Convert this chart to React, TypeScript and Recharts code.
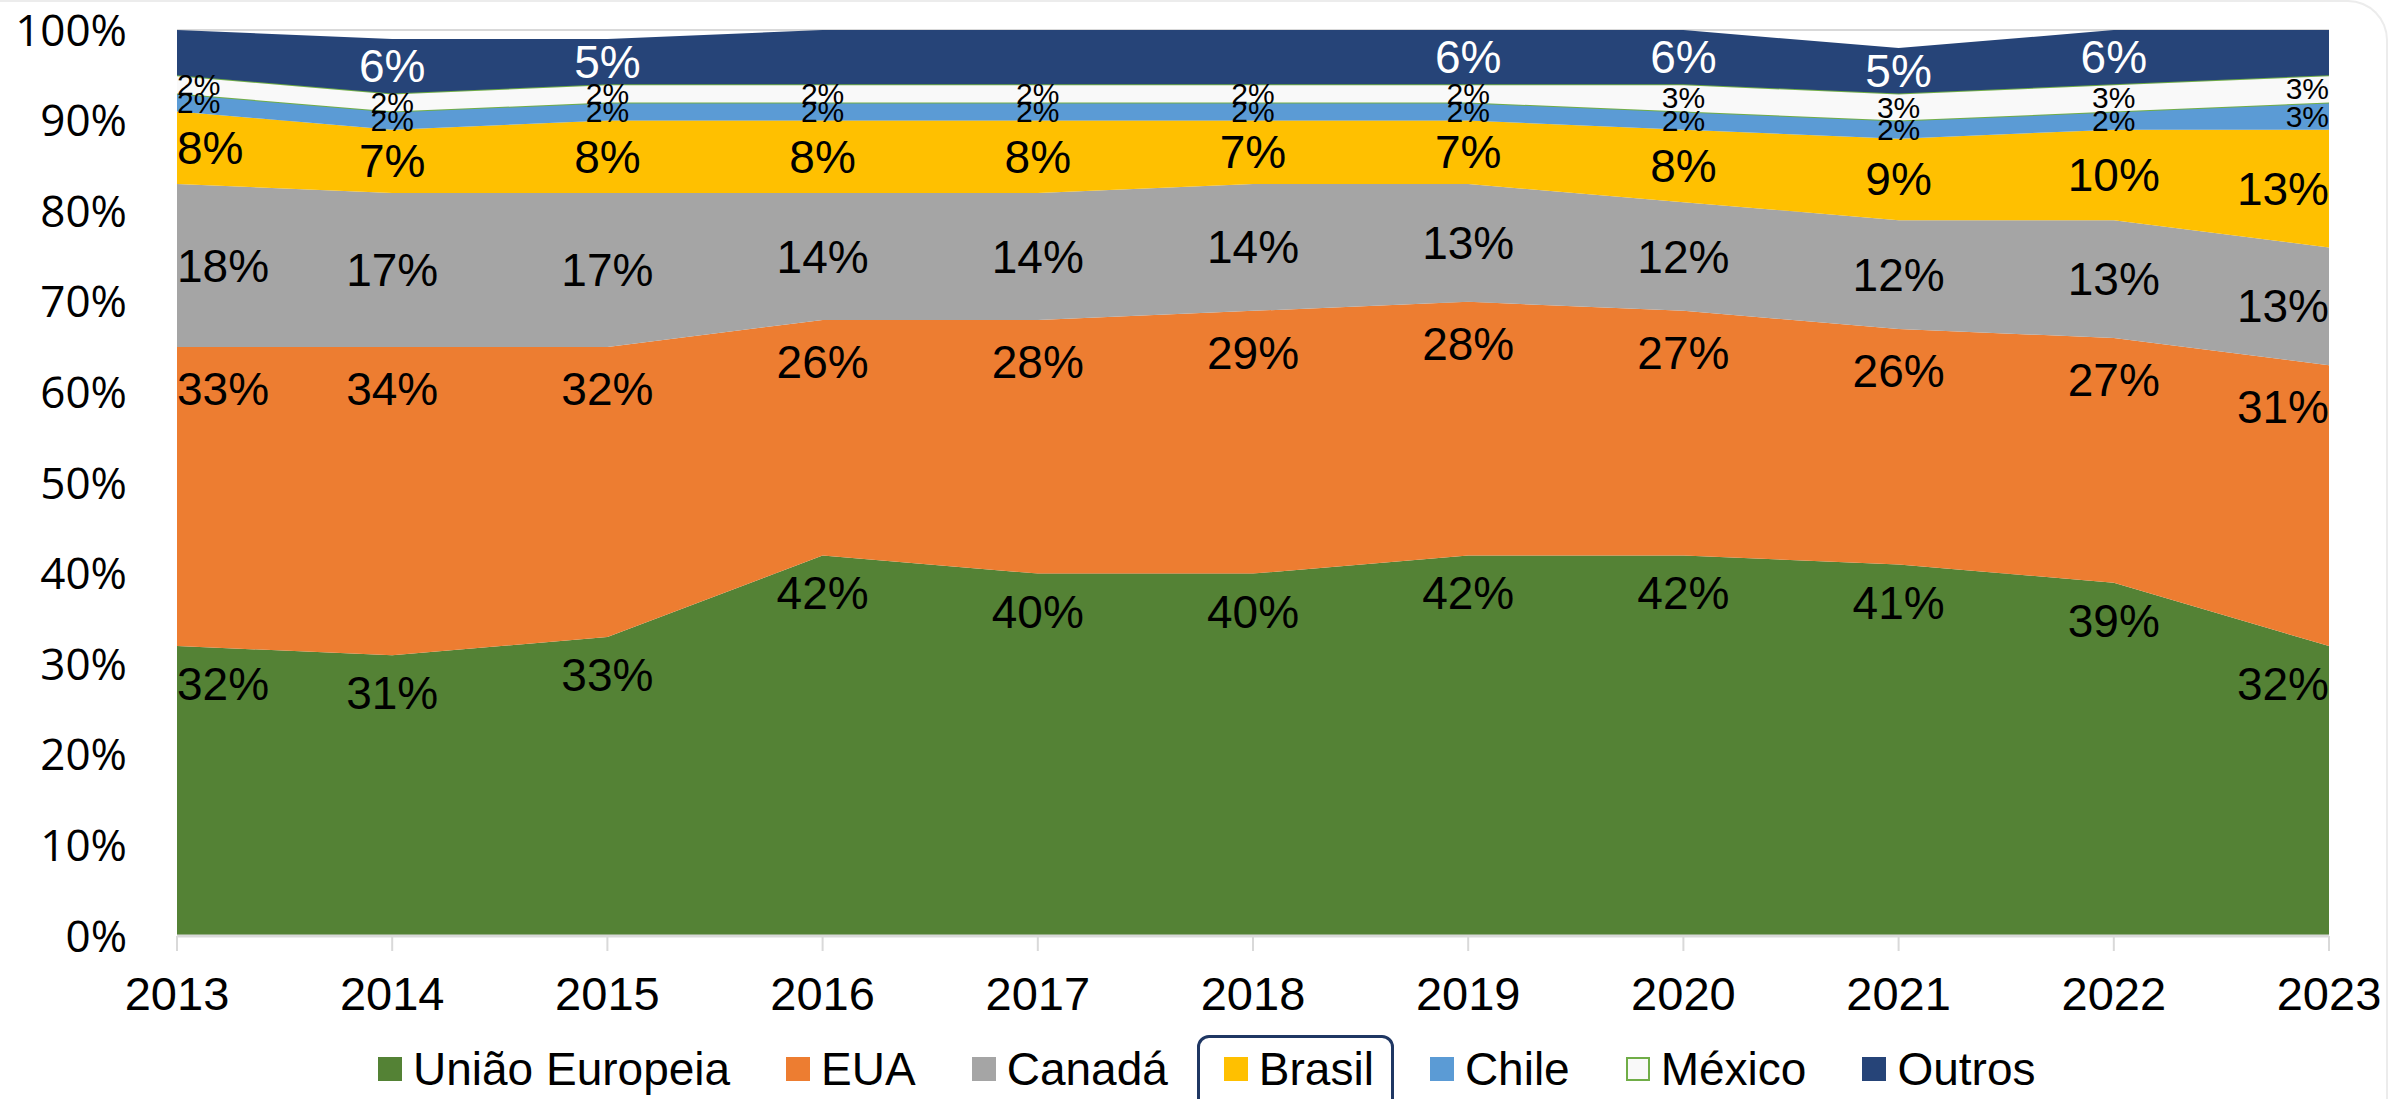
import { AreaChart, Area, XAxis, YAxis, CartesianGrid } from 'recharts';

const years = ['2013', '2014', '2015', '2016', '2017', '2018', '2019', '2020', '2021', '2022', '2023'];
const uniaoEuropeia = [32, 31, 33, 42, 40, 40, 42, 42, 41, 39, 32];
const eua = [33, 34, 32, 26, 28, 29, 28, 27, 26, 27, 31];
const canada = [18, 17, 17, 14, 14, 14, 13, 12, 12, 13, 13];
const brasil = [8, 7, 8, 8, 8, 7, 7, 8, 9, 10, 13];
const chile = [2, 2, 2, 2, 2, 2, 2, 2, 2, 2, 3];
const mexico = [2, 2, 2, 2, 2, 2, 2, 3, 3, 3, 3];
const outros = [5, 6, 5, 6, 6, 6, 6, 6, 5, 6, 5];
const yTicks = [0, 10, 20, 30, 40, 50, 60, 70, 80, 90, 100];
// years where the "Outros" label is not shown in the original
const outrosNoLabel = [0, 3, 4, 5, 10];

const W = 2390;
const H = 1099;
const PLOT_TOP = 30;
const PLOT_BOTTOM = 936;
const PLOT_LEFT = 177;
const PLOT_RIGHT = 2329;
const PLOT_H = PLOT_BOTTOM - PLOT_TOP;
const X_AXIS_H = 60;

const ARIAL = '"Liberation Sans", Arial, sans-serif';

type Series = {
  key: string;
  name: string;
  values: number[];
  fill: string;
  stroke: string;
  strokeWidth?: number;
  labelMode: 'top' | 'center';
  labelOffset?: number;
  labelSize: number;
  labelColor: string;
  noLabel?: number[];
};

const series: Series[] = [
  { key: 'ue', name: 'União Europeia', values: uniaoEuropeia, fill: '#548235', stroke: 'none', labelMode: 'top', labelOffset: 38, labelSize: 46, labelColor: '#000' },
  { key: 'eua', name: 'EUA', values: eua, fill: '#ed7d31', stroke: 'none', labelMode: 'top', labelOffset: 42, labelSize: 46, labelColor: '#000' },
  { key: 'canada', name: 'Canadá', values: canada, fill: '#a5a5a5', stroke: 'none', labelMode: 'center', labelSize: 46, labelColor: '#000' },
  { key: 'brasil', name: 'Brasil', values: brasil, fill: '#ffc000', stroke: 'none', labelMode: 'center', labelSize: 46, labelColor: '#000' },
  { key: 'chile', name: 'Chile', values: chile, fill: '#5b9bd5', stroke: '#70ad47', strokeWidth: 2, labelMode: 'center', labelSize: 30, labelColor: '#000' },
  { key: 'mexico', name: 'México', values: mexico, fill: '#f9f9f9', stroke: '#70ad47', strokeWidth: 2, labelMode: 'center', labelSize: 30, labelColor: '#000' },
  { key: 'outros', name: 'Outros', values: outros, fill: '#264478', stroke: 'none', labelMode: 'center', labelSize: 46, labelColor: '#fff', noLabel: outrosNoLabel },
];

const data = years.map((year, i) => {
  const row: Record<string, number | string> = { year };
  series.forEach((s) => {
    row[s.key] = s.values[i];
  });
  return row;
});

const makeLabel = (s: Series) => (props: any) => {
  const index: number = props.index;
  const x = props.x ?? props.viewBox?.x;
  const y = props.y ?? props.viewBox?.y;
  if (x == null || y == null) return null;
  if (s.noLabel && s.noLabel.includes(index)) return null;
  const raw = s.values[index];
  const band = (raw * PLOT_H) / 100;
  const cy = s.labelMode === 'top' ? y + (s.labelOffset || 0) : y + band / 2;
  const anchor = index === 0 ? 'start' : index === years.length - 1 ? 'end' : 'middle';
  return (
    <text
      key={`${s.key}-${index}`}
      x={x}
      y={cy}
      textAnchor={anchor}
      dominantBaseline="central"
      fontSize={s.labelSize}
      fontFamily={ARIAL}
      fill={s.labelColor}
    >
      {raw}%
    </text>
  );
};

const Legend = () => (
  <div
    style={{
      position: 'absolute',
      left: 378,
      top: 1043,
      height: 52,
      display: 'flex',
      alignItems: 'center',
      gap: 56,
      fontFamily: ARIAL,
      fontSize: 46,
      color: '#000',
      whiteSpace: 'nowrap',
    }}
  >
    {series.map((s) => (
      <div key={s.key} style={{ position: 'relative', display: 'flex', alignItems: 'center' }}>
        {s.key === 'brasil' && (
          <div
            style={{
              position: 'absolute',
              left: -27,
              right: -20,
              top: -8,
              height: 90,
              border: '3px solid #1f3763',
              borderRadius: 12,
            }}
          />
        )}
        <span
          style={{
            display: 'inline-block',
            width: s.key === 'mexico' ? 20 : 24,
            height: s.key === 'mexico' ? 20 : 24,
            background: s.fill,
            border: s.key === 'mexico' ? '2px solid #70ad47' : 'none',
            marginRight: 11,
          }}
        />
        <span style={{ lineHeight: '52px' }}>{s.name}</span>
      </div>
    ))}
  </div>
);

export default function App() {
  return (
    <div
      style={{
        position: 'absolute',
        left: 0,
        top: 0,
        width: W,
        height: H,
        overflow: 'hidden',
        background: '#fff',
      }}
    >
      <div
        style={{
          position: 'absolute',
          left: -10,
          top: 0,
          width: W + 8,
          height: H + 40,
          borderTop: '2px solid #ececec',
          borderRight: '2px solid #ececec',
          borderTopRightRadius: 40,
          boxSizing: 'border-box',
        }}
      />
      <AreaChart
        width={W}
        height={H}
        data={data}
        margin={{ top: PLOT_TOP, right: W - PLOT_RIGHT, left: 0, bottom: H - PLOT_BOTTOM - X_AXIS_H }}
      >
        <CartesianGrid horizontal vertical={false} stroke="#d9d9d9" strokeWidth={2} />
        <XAxis
          dataKey="year"
          height={X_AXIS_H}
          axisLine={{ stroke: '#d9d9d9', strokeWidth: 3 }}
          tickLine={{ stroke: '#d9d9d9', strokeWidth: 2 }}
          tickSize={15}
          tickMargin={26}
          interval={0}
          tick={{ fill: '#000', fontSize: 47, fontFamily: ARIAL }}
        />
        <YAxis
          width={PLOT_LEFT}
          domain={[0, 100]}
          ticks={yTicks}
          allowDataOverflow
          axisLine={false}
          tickLine={false}
          tickSize={0}
          tickMargin={50}
          tickFormatter={(v) => `${v}%`}
          tick={{ fill: '#000', fontSize: 44, fontFamily: '"Open Sans", sans-serif' }}
        />
        {series.map((s) => (
          <Area
            key={s.key}
            type="linear"
            dataKey={s.key}
            name={s.name}
            stackId="1"
            fill={s.fill}
            fillOpacity={1}
            stroke={s.stroke}
            strokeWidth={s.strokeWidth || 0}
            isAnimationActive={false}
            label={makeLabel(s)}
          />
        ))}
      </AreaChart>
      <Legend />
    </div>
  );
}
